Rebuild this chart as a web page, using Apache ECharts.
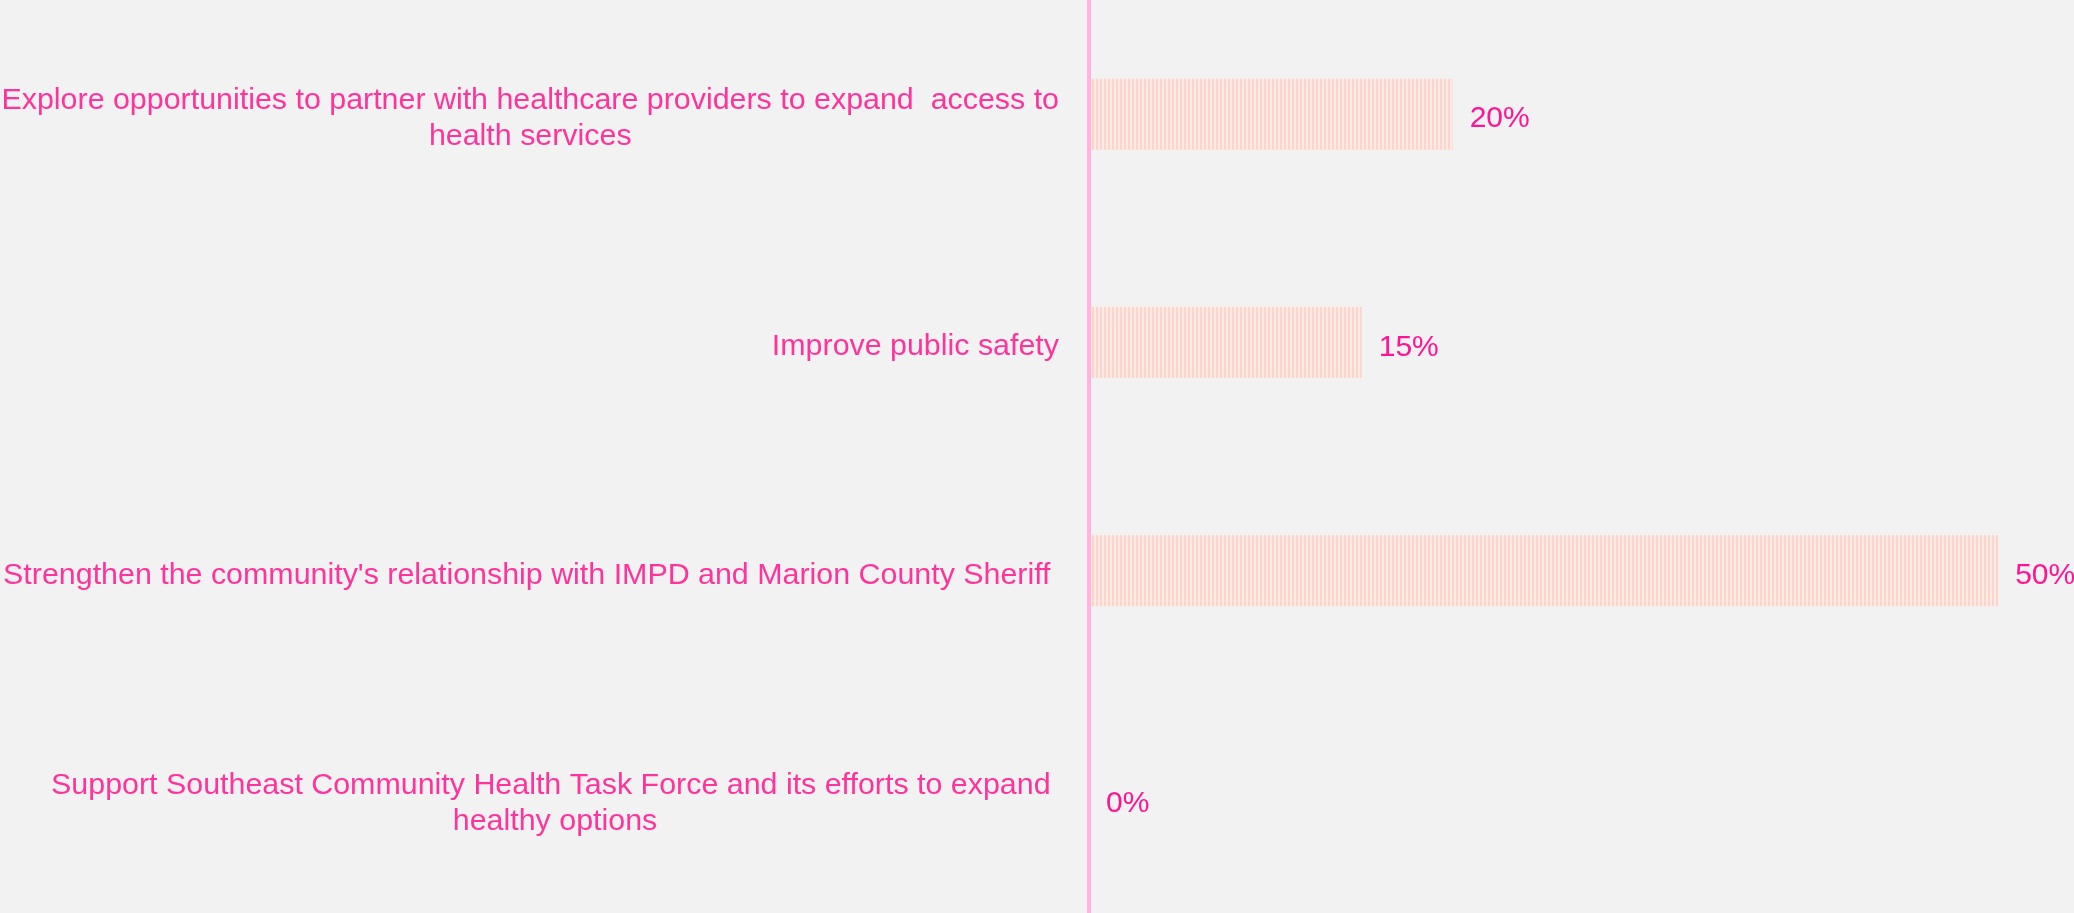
<!DOCTYPE html>
<html>
<head>
<meta charset="utf-8">
<script src="https://cdn.jsdelivr.net/npm/echarts@6/dist/echarts.min.js"></script>
<style>
html,body{margin:0;padding:0;background:#F2F2F2;}
#chart{width:2074px;height:913px;}
</style>
</head>
<body>
<div id="chart"></div>
<script>
// Categories top to bottom
const categories = [
  "Explore opportunities to partner with healthcare providers to expand  access to\nhealth services",
  "Improve public safety",
  "Strengthen the community's relationship with IMPD and Marion County Sheriff ",
  "Support Southeast Community Health Task Force and its efforts to expand \nhealthy options"
];
const values = [20, 15, 50, 0]; // percent

// Striped pattern
const pat = document.createElement('canvas');
pat.width = 4; pat.height = 4;
const pc = pat.getContext('2d');
pc.fillStyle = '#FDEAE5'; pc.fillRect(0, 0, 4, 4);
pc.fillStyle = '#FBD5CA'; pc.fillRect(0, 0, 2, 4);

const chart = echarts.init(document.getElementById('chart'));
chart.setOption({
  backgroundColor: '#F2F2F2',
  animation: false,
  grid: { left: 1089, top: 0, width: 1091, height: 913, containLabel: false, outerBoundsMode: 'none' },
  xAxis: {
    type: 'value', min: 0, max: 60, show: false,
    splitLine: { show: false }
  },
  yAxis: {
    type: 'category', data: categories, inverse: true, z: 5,
    axisLine: { show: true, lineStyle: { color: '#FFB3DE', width: 4 } },
    axisTick: { show: false },
    axisLabel: {
      margin: 30,
      color: '#FF3399',
      padding: [9, 0, 0, 0],
      fontFamily: 'Liberation Sans Narrow, Arial Narrow, sans-serif',
      fontSize: 30.4,
      lineHeight: 36,
      formatter: function (v) {
        return v.split('\n').map(function (l) { return '{a|' + l + '}'; }).join('\n');
      },
      rich: {
        a: {
          align: 'center',
          color: '#FF3399',
          fontFamily: 'Liberation Sans Narrow, Arial Narrow, sans-serif',
          fontSize: 30.4,
          lineHeight: 36
        }
      }
    }
  },
  series: [{
    type: 'bar',
    data: values,
    barWidth: 71,
    itemStyle: { color: { image: pat, repeat: 'repeat' } },
    label: {
      show: true,
      position: 'right',
      distance: 17,
      offset: [0, 5],
      formatter: '{c}%',
      color: '#FF1493',
      fontFamily: 'Liberation Sans, Arial, sans-serif',
      fontSize: 30
    }
  }]
});
</script>
</body>
</html>
